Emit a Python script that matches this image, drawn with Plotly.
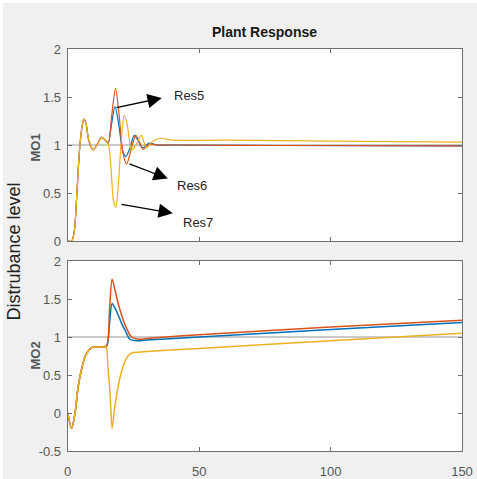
import plotly.graph_objects as go

# ---------------- data ----------------
# MO1 (top panel)
t_mo1_res7 = [0, 1.5, 2.5, 3.5, 4.5, 5.5, 6.2, 7, 8, 9.7, 11.3, 12.9, 14.3, 15.4, 16.5, 17.4, 18.3, 19.3, 20.4, 21.5, 22.6, 24.3, 26.0, 28.0, 30.0, 32.0, 35, 40, 60, 100, 150]
y_mo1_res7 = [0, 0, 0.1, 0.5, 0.95, 1.2, 1.27, 1.22, 1.05, 0.95, 1.01, 1.08, 1.05, 1.02, 0.75, 0.42, 0.35, 0.6, 1.05, 1.31, 1.22, 0.95, 1.0, 1.1, 0.97, 1.03, 1.07, 1.05, 1.05, 1.04, 1.03]

t_mo1_res5 = [0, 1.5, 2.5, 3.5, 4.5, 5.5, 6.2, 7, 8, 9.7, 11.3, 12.9, 14.3, 15.4, 16.7, 18.0, 19.5, 20.8, 22.1, 23.7, 25.3, 26.9, 28.5, 31, 34, 40, 80, 150]
y_mo1_res5 = [0, 0, 0.1, 0.5, 0.95, 1.2, 1.27, 1.22, 1.05, 0.95, 1.01, 1.08, 1.05, 1.02, 1.22, 1.40, 1.2, 0.95, 0.88, 0.97, 1.10, 1.04, 0.97, 1.02, 1.0, 1.0, 0.995, 0.99]

t_mo1_res6 = [0, 1.5, 2.5, 3.5, 4.5, 5.5, 6.2, 7, 8, 9.7, 11.3, 12.9, 14.3, 15.4, 16.8, 18.2, 19.6, 21.0, 22.4, 24.1, 25.9, 27.3, 28.7, 31, 34, 40, 80, 150]
y_mo1_res6 = [0, 0, 0.1, 0.5, 0.95, 1.2, 1.27, 1.22, 1.05, 0.95, 1.01, 1.08, 1.05, 1.02, 1.32, 1.59, 1.3, 0.92, 0.80, 0.95, 1.10, 1.03, 0.955, 1.01, 1.0, 1.0, 0.995, 0.99]

# MO2 (bottom panel)
t_mo2_res7 = [0, 1.5, 2.8, 4.0, 5.3, 6.6, 7.9, 9.1, 11, 13, 14.5, 15.3, 16.1, 16.9, 17.8, 19.2, 20.5, 21.8, 23.0, 24.3, 27, 30, 50, 100, 150]
y_mo2_res7 = [0, -0.2, 0.0, 0.35, 0.58, 0.74, 0.82, 0.86, 0.87, 0.87, 0.88, 0.6, 0.26, -0.2, 0.05, 0.35, 0.55, 0.68, 0.75, 0.79, 0.8, 0.81, 0.85, 0.95, 1.05]

t_mo2_res5 = [0, 1.5, 2.8, 4.0, 5.3, 6.6, 7.9, 9.1, 11, 13, 14.8, 15.9, 16.9, 18.0, 19.2, 20.5, 21.8, 23.7, 26, 30, 50, 100, 150]
y_mo2_res5 = [0, -0.2, 0.0, 0.35, 0.58, 0.74, 0.82, 0.86, 0.87, 0.87, 0.88, 1.18, 1.44, 1.38, 1.29, 1.18, 1.09, 0.97, 0.95, 0.96, 1.0, 1.1, 1.19]

t_mo2_res6 = [0, 1.5, 2.8, 4.0, 5.3, 6.6, 7.9, 9.1, 11, 13, 14.8, 15.9, 16.9, 18.0, 19.2, 20.5, 21.8, 24.3, 27, 30, 50, 100, 150]
y_mo2_res6 = [0, -0.2, 0.0, 0.35, 0.58, 0.74, 0.82, 0.86, 0.87, 0.87, 0.88, 1.35, 1.76, 1.62, 1.44, 1.29, 1.16, 1.0, 0.97, 0.98, 1.03, 1.13, 1.22]

ref_level = 1.0

x_ticks = [0, 50, 100, 150]
x_ticktext = ["0", "50", "100", "150"]
y1_ticks = [0, 0.5, 1, 1.5, 2]
y1_ticktext = ["0", "0.5", "1", "1.5", "2"]
y2_ticks = [-0.5, 0, 0.5, 1, 1.5, 2]
y2_ticktext = ["-0.5", "0", "0.5", "1", "1.5", "2"]

series_names = ["Res5", "Res6", "Res7"]
colors = ["#0072BD", "#D95319", "#EDB120"]

# ---------------- figure ----------------
fig = go.Figure()

top = [(t_mo1_res5, y_mo1_res5), (t_mo1_res6, y_mo1_res6), (t_mo1_res7, y_mo1_res7)]
bot = [(t_mo2_res5, y_mo2_res5), (t_mo2_res6, y_mo2_res6), (t_mo2_res7, y_mo2_res7)]

for (t, y), name, c in zip(top, series_names, colors):
    fig.add_trace(go.Scatter(x=t, y=y, mode="lines", name=name,
                             line=dict(color=c, width=1.2, shape="spline", smoothing=0.8),
                             xaxis="x", yaxis="y", showlegend=False))
for (t, y), name, c in zip(bot, series_names, colors):
    fig.add_trace(go.Scatter(x=t, y=y, mode="lines", name=name,
                             line=dict(color=c, width=1.5, shape="spline", smoothing=0.8),
                             xaxis="x2", yaxis="y2", showlegend=False))

for xr, yr in [("x", "y"), ("x2", "y2")]:
    fig.add_shape(type="line", xref=xr, yref=yr, x0=0, x1=150, y0=ref_level, y1=ref_level,
                  line=dict(color="#b8b8b8", width=1.5), layer="below")

axis_common = dict(showline=True, linecolor="#707070", linewidth=1, mirror="ticks",
                   ticks="inside", ticklen=4, tickcolor="#707070", showgrid=False,
                   zeroline=False, automargin=False,
                   tickfont=dict(family="Liberation Sans, Arial", size=13, color="#555555"))

xdom = [67.7 / 477, 462 / 477]
fig.update_layout(
    template="none",
    width=477, height=479,
    margin=dict(l=0, r=0, t=0, b=0, pad=0, autoexpand=False),
    paper_bgcolor="#f0f0f0",
    plot_bgcolor="white",
    xaxis=dict(domain=xdom, range=[0, 150], tickvals=x_ticks, ticktext=x_ticktext,
               showticklabels=False, anchor="y", **axis_common),
    yaxis=dict(domain=[1 - 241 / 479, 1 - 49 / 479], range=[0, 2], tickvals=y1_ticks,
               ticktext=y1_ticktext, anchor="x", ticklabelstandoff=3, **axis_common),
    xaxis2=dict(domain=xdom, range=[0, 150], tickvals=x_ticks, ticktext=x_ticktext,
                anchor="y2", ticklabelstandoff=8, **axis_common),
    yaxis2=dict(domain=[1 - 451 / 479, 1 - 261 / 479], range=[-0.5, 2], tickvals=y2_ticks,
                ticktext=y2_ticktext, anchor="x2", ticklabelstandoff=3, **axis_common),
)

ann = []
mid = dict(xanchor="center", yanchor="middle", showarrow=False, xref="paper", yref="paper")
# title
ann.append(dict(text="<b>Plant Response</b>", x=264 / 477, y=1 - 32 / 479,
                font=dict(family="Liberation Sans, Arial", size=14, color="#1a1a1a"), **mid))
# panel labels
ann.append(dict(text="<b>MO1</b>", x=35 / 477, y=1 - 147.5 / 479, textangle=-90,
                font=dict(family="Liberation Sans, Arial", size=13, color="#555555"), **mid))
ann.append(dict(text="<b>MO2</b>", x=35 / 477, y=1 - 355.5 / 479, textangle=-90,
                font=dict(family="Liberation Sans, Arial", size=13, color="#555555"), **mid))
ann.append(dict(text="Distrubance level", x=13 / 477, y=1 - 251.5 / 479, textangle=-90,
                font=dict(family="Liberation Sans, Arial", size=18, color="#222222"), **mid))

# arrows (head -> text side, tail on the curve)
arrow_heads = [(35.8, 1.49), (38.1, 0.65), (40.0, 0.29)]
arrow_tails = [(18.0, 1.385), (22.9, 0.81), (19.9, 0.385)]
label_pos = [(46.1, 1.52), (47.2, 0.58), (49.5, 0.19)]
for (hx, hy), (tx, ty), (lx, ly), name in zip(arrow_heads, arrow_tails, label_pos, series_names):
    ann.append(dict(text="", x=hx, y=hy, xref="x", yref="y", ax=tx, ay=ty, axref="x", ayref="y",
                    showarrow=True, arrowhead=2, arrowsize=2.2, arrowwidth=1.3, arrowcolor="#000000",
                    standoff=0, startstandoff=0))
    ann.append(dict(text=name, x=lx, y=ly, xref="x", yref="y", showarrow=False,
                    xanchor="center", yanchor="middle",
                    font=dict(family="Liberation Sans, Arial", size=13, color="#222222")))

fig.update_layout(annotations=ann)

# thin white border on top/left like the reference screenshot
fig.add_shape(type="rect", xref="paper", yref="paper", x0=0, x1=3 / 477, y0=0, y1=1,
              fillcolor="white", line=dict(width=0), layer="below")
fig.add_shape(type="rect", xref="paper", yref="paper", x0=0, x1=1, y0=1 - 3 / 479, y1=1,
              fillcolor="white", line=dict(width=0), layer="below")

fig.write_html("out.html")
